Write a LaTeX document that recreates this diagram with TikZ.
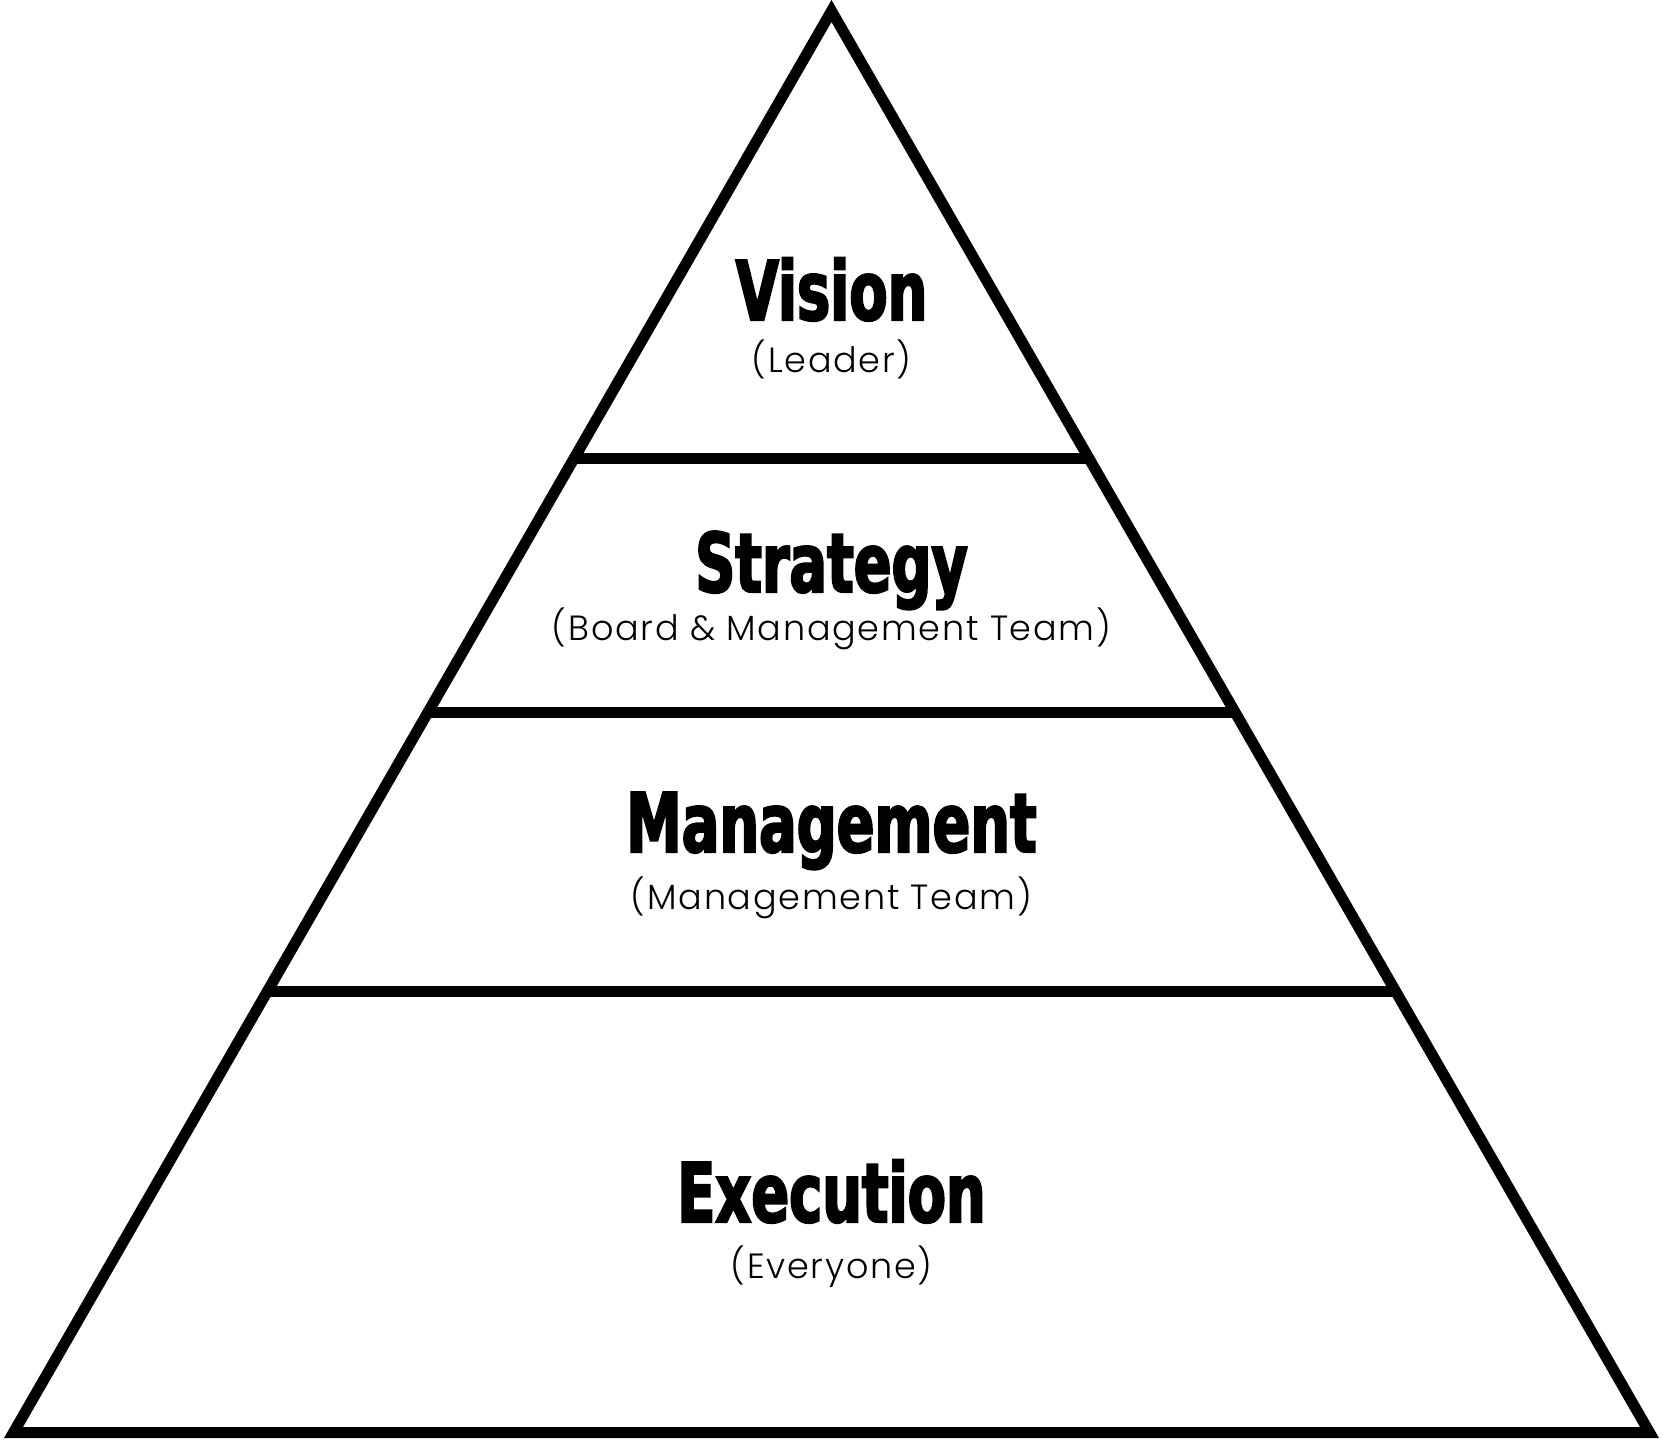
\documentclass[tikz,border=0pt]{standalone}
\usepackage{fontspec}
\usetikzlibrary{calc}
\newfontfamily\headfont[FakeStretch=0.68,FakeBold=2.5]{DejaVu Sans Bold}
\newfontfamily\subfont[LetterSpace=5]{Poppins Light}
\tikzset{
  frame/.style={line width=11pt, line join=miter},
  divider/.style={line width=11pt},
  head/.style={anchor=base, inner sep=0pt, font=\headfont\fontsize{82}{82}\selectfont},
  sub/.style={anchor=base, inner sep=0pt, font=\subfont\fontsize{35}{35}\selectfont}
}
\begin{document}
\begin{tikzpicture}[x=1pt,y=-1pt]
\useasboundingbox (0,0) rectangle (1663,1440);
\coordinate (T) at (831.5,11);
\coordinate (L) at (13.5,1432.5);
\coordinate (R) at (1649.5,1432.5);
\draw[frame] (T) -- (L) -- (R) -- cycle;
\coordinate (l1) at ($(T)!0.3145!(L)$);
\coordinate (r1) at ($(T)!0.3145!(R)$);
\coordinate (l2) at ($(T)!0.4938!(L)$);
\coordinate (r2) at ($(T)!0.4938!(R)$);
\coordinate (l3) at ($(T)!0.6894!(L)$);
\coordinate (r3) at ($(T)!0.6894!(R)$);
\draw[divider] (l1) -- (r1);
\draw[divider] (l2) -- (r2);
\draw[divider] (l3) -- (r3);
\node[head] (vision) at (831.5,320) {Vision};
\node[sub] (leader) at (831.5,372) {(Leader)};
\node[head] (strategy) at (831.5,592) {Strategy};
\node[sub] (board) at (831.5,640) {(Board \& Management Team)};
\node[head] (management) at (831.5,852) {Management};
\node[sub] (mteam) at (831.5,909) {(Management Team)};
\node[head] (execution) at (831.5,1222) {Execution};
\node[sub] (everyone) at (831.5,1278) {(Everyone)};
\end{tikzpicture}
\end{document}
